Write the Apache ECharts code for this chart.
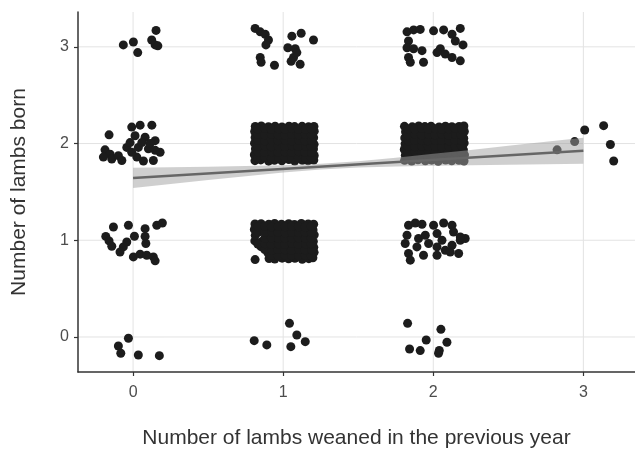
<!DOCTYPE html>
<html>
<head>
<meta charset="utf-8">
<script src="https://cdn.jsdelivr.net/npm/echarts@6/dist/echarts.min.js"></script>
<style>html,body{margin:0;padding:0;background:#fff}#c{width:635px;height:450px}</style>
</head>
<body>
<div id="c"></div>
<script>
// Tick labels
const xTicks = [0, 1, 2, 3];
const yTicks = [0, 1, 2, 3];

// Jittered observations, grouped by (weaned, born)
const c0_0 = [[-0.031,-0.013],[-0.098,-0.093],[-0.082,-0.168],[0.035,-0.186],[0.175,-0.193]];
const c1_0 = [[0.807,-0.038],[0.891,-0.082],[1.042,0.141],[1.091,0.021],[1.051,-0.1],[1.147,-0.048]];
const c2_0 = [[1.829,0.141],[1.842,-0.124],[1.913,-0.141],[1.953,-0.031],[2.051,0.079],[2.091,-0.055],[2.035,-0.168],[2.04,-0.14]];
const c0_1 = [[-0.131,1.137],[-0.182,1.04],[-0.16,0.993],[-0.142,0.938],[-0.042,0.982],[-0.065,0.931],[-0.087,0.879],[-0.031,1.155],[0.009,1.041],[0.08,1.12],[0.08,1.04],[0.085,0.966],[0.158,1.155],[0.195,1.178],[0.002,0.828],[0.047,0.856],[0.091,0.845],[0.135,0.828],[0.147,0.787]];
const c1_1 = [
[0.906,0.812],[0.944,0.806],[0.993,0.815],[1.036,0.808],[1.078,0.813],[1.127,0.804],[1.171,0.81],[1.198,0.818],
[0.898,0.871],[0.951,0.878],[0.987,0.866],[1.041,0.874],[1.084,0.869],[1.123,0.879],[1.166,0.868],[1.206,0.875],
[0.852,0.934],[0.903,0.927],[0.946,0.938],[0.982,0.925],[1.034,0.936],[1.079,0.929],[1.129,0.94],[1.168,0.931],[1.204,0.927],
[0.811,0.993],[0.858,0.987],[0.897,0.996],[0.952,0.984],[0.991,0.998],[1.038,0.989],[1.074,0.994],[1.122,0.986],[1.173,0.997],[1.201,0.988],
[0.814,1.051],[0.909,1.046],[0.941,1.055],[0.985,1.049],[1.031,1.057],[1.086,1.044],[1.118,1.053],[1.164,1.048],[1.207,1.056],
[0.808,1.112],[0.861,1.104],[0.895,1.116],[0.949,1.107],[0.996,1.113],[1.043,1.103],[1.081,1.115],[1.126,1.108],[1.17,1.111],[1.199,1.106],
[0.812,1.168],[0.853,1.172],[0.904,1.165],[0.943,1.174],[0.989,1.166],[1.037,1.171],[1.075,1.164],[1.121,1.173],[1.167,1.169],[1.203,1.166],
[0.813,0.80]
];
const c1_1b = [
[0.922,0.843],[0.967,0.839],[1.012,0.846],[1.057,0.841],[1.102,0.838],[1.147,0.845],[1.187,0.84],
[0.877,0.904],[0.924,0.899],[0.966,0.905],[1.013,0.901],[1.055,0.897],[1.104,0.906],[1.145,0.9],[1.189,0.903],
[0.831,0.961],[0.879,0.965],[0.92,0.958],[0.968,0.963],[1.01,0.959],[1.059,0.966],[1.1,0.96],[1.149,0.964],[1.186,0.962],
[0.878,1.021],[0.921,1.025],[0.969,1.018],[1.011,1.023],[1.058,1.019],[1.101,1.026],[1.148,1.02],[1.187,1.024],
[0.833,1.083],[0.876,1.079],[0.923,1.085],[0.965,1.081],[1.014,1.078],[1.056,1.084],[1.103,1.08],[1.146,1.086],[1.188,1.082],
[0.832,1.141],[0.877,1.145],[0.922,1.138],[0.967,1.143],[1.012,1.139],[1.057,1.144],[1.102,1.14],[1.147,1.137],[1.187,1.143]
];
const c2_1 = [[1.835,1.155],[1.88,1.178],[1.925,1.165],[2.002,1.155],[2.069,1.178],[2.125,1.155],[1.825,1.052],[1.813,0.966],[1.835,0.863],[1.847,0.794],[1.891,0.931],[1.902,1.018],[1.947,1.052],[1.935,0.845],[1.969,0.966],[2.025,1.069],[2.025,0.931],[2.058,1.0],[2.08,0.897],[2.125,0.948],[2.18,1.0],[2.213,1.018],[2.113,0.879],[2.169,0.863],[2.025,0.845],[2.18,1.034],[2.135,1.086]];
const c0_2 = [[-0.16,2.09],[-0.187,1.935],[-0.153,1.89],[-0.198,1.86],[-0.142,1.84],[-0.098,1.875],[-0.075,1.825],[-0.042,1.96],[-0.02,2.01],[-0.009,2.17],[0.047,2.19],[0.125,2.19],[0.013,2.08],[0.08,2.065],[0.147,2.03],[0.035,1.96],[0.102,1.945],[0.18,1.91],[0.025,1.86],[0.069,1.82],[0.135,1.825],[-0.009,1.91],[0.058,2.01],[0.113,2.0],[0.147,1.93]];
const c1_2 = [
[0.812,1.823],[0.851,1.831],[0.903,1.818],[0.942,1.827],[0.991,1.821],[1.038,1.834],[1.077,1.819],[1.128,1.826],[1.166,1.822],[1.204,1.829],
[0.808,1.884],[0.859,1.872],[0.897,1.889],[0.948,1.876],[0.986,1.885],[1.031,1.871],[1.083,1.887],[1.121,1.874],[1.173,1.883],[1.207,1.876],
[0.815,1.943],[0.853,1.936],[0.906,1.948],[0.939,1.934],[0.994,1.941],[1.036,1.951],[1.074,1.937],[1.129,1.946],[1.164,1.933],[1.202,1.944],
[0.809,2.004],[0.862,1.996],[0.894,2.008],[0.951,1.993],[0.983,2.006],[1.042,1.998],[1.081,2.011],[1.119,1.995],[1.176,2.003],[1.206,1.992],
[0.813,2.063],[0.849,2.057],[0.908,2.068],[0.944,2.054],[0.997,2.066],[1.028,2.059],[1.086,2.071],[1.124,2.056],[1.168,2.064],[1.203,2.061],
[0.81,2.124],[0.857,2.116],[0.899,2.129],[0.953,2.118],[0.988,2.126],[1.034,2.113],[1.079,2.127],[1.131,2.119],[1.171,2.122],[1.207,2.128],
[0.814,2.176],[0.854,2.181],[0.902,2.174],[0.946,2.179],[0.992,2.172],[1.039,2.18],[1.076,2.175],[1.126,2.178],[1.169,2.173],[1.205,2.177]
];
const c1_2b = [
[0.831,1.851],[0.878,1.856],[0.921,1.848],[0.969,1.853],[1.011,1.857],[1.058,1.849],[1.101,1.854],[1.148,1.85],[1.187,1.855],
[0.834,1.913],[0.875,1.908],[0.924,1.915],[0.966,1.91],[1.013,1.914],[1.055,1.909],[1.104,1.916],[1.145,1.911],[1.189,1.907],
[0.83,1.971],[0.879,1.975],[0.92,1.968],[0.968,1.973],[1.01,1.969],[1.059,1.976],[1.1,1.97],[1.149,1.974],[1.186,1.972],
[0.833,2.031],[0.876,2.028],[0.923,2.035],[0.965,2.03],[1.014,2.033],[1.056,2.027],[1.103,2.034],[1.146,2.029],[1.188,2.032],
[0.832,2.093],[0.877,2.089],[0.922,2.095],[0.967,2.091],[1.012,2.088],[1.057,2.094],[1.102,2.09],[1.147,2.096],[1.187,2.092],
[0.831,2.151],[0.878,2.155],[0.921,2.148],[0.969,2.153],[1.011,2.149],[1.058,2.154],[1.101,2.15],[1.148,2.147],[1.187,2.153]
];
const c2_2 = [
[1.809,1.826],[1.856,1.819],[1.898,1.832],[1.947,1.821],[1.989,1.828],[2.033,1.817],[2.082,1.83],[2.123,1.822],[2.171,1.827],[2.205,1.82],
[1.814,1.879],[1.852,1.887],[1.905,1.874],[1.941,1.884],[1.995,1.871],[2.037,1.888],[2.076,1.876],[2.127,1.886],[2.165,1.873],[2.208,1.882],
[1.807,1.938],[1.861,1.947],[1.896,1.933],[1.952,1.944],[1.984,1.936],[2.041,1.949],[2.085,1.935],[2.119,1.941],[2.174,1.948],[2.201,1.934],
[1.812,1.997],[1.849,2.006],[1.907,1.994],[1.943,2.009],[1.993,1.999],[2.029,2.004],[2.078,1.992],[2.13,2.007],[2.163,1.998],[2.206,2.005],
[1.81,2.058],[1.858,2.067],[1.901,2.055],[1.949,2.069],[1.987,2.06],[2.036,2.053],[2.083,2.066],[2.121,2.058],[2.177,2.068],[2.203,2.056],
[1.815,2.121],[1.853,2.114],[1.894,2.127],[1.954,2.117],[1.996,2.129],[2.031,2.12],[2.074,2.113],[2.128,2.126],[2.167,2.118],[2.207,2.124],
[1.808,2.178],[1.86,2.173],[1.903,2.181],[1.944,2.175],[1.985,2.179],[2.039,2.172],[2.081,2.18],[2.124,2.174],[2.172,2.177],[2.204,2.181]
];
const c2_2b = [
[1.833,1.853],[1.876,1.849],[1.923,1.856],[1.965,1.851],[2.014,1.848],[2.056,1.855],[2.103,1.85],[2.146,1.857],[2.188,1.852],
[1.831,1.91],[1.879,1.914],[1.92,1.907],[1.968,1.912],[2.01,1.916],[2.059,1.909],[2.1,1.913],[2.149,1.908],[2.186,1.915],
[1.832,1.972],[1.877,1.968],[1.922,1.975],[1.967,1.97],[2.012,1.974],[2.057,1.967],[2.102,1.973],[2.147,1.969],[2.187,1.976],
[1.834,2.029],[1.875,2.034],[1.924,2.03],[1.966,2.027],[2.013,2.033],[2.055,2.031],[2.104,2.028],[2.145,2.035],[2.189,2.03],
[1.83,2.091],[1.878,2.095],[1.921,2.089],[1.969,2.094],[2.011,2.09],[2.058,2.096],[2.101,2.088],[2.148,2.093],[2.186,2.091],
[1.833,2.153],[1.876,2.149],[1.923,2.155],[1.965,2.15],[2.014,2.154],[2.056,2.148],[2.103,2.152],[2.146,2.156],[2.188,2.15]
];
const c3_2 = [[2.825,1.935],[2.942,2.02],[3.009,2.14],[3.135,2.185],[3.18,1.99],[3.202,1.82]];
const c0_3 = [[-0.065,3.02],[0.002,3.05],[0.031,2.94],[0.153,3.17],[0.124,3.07],[0.147,3.02],[0.165,3.01]];
const c1_3 = [[0.813,3.19],[0.847,3.155],[0.88,3.13],[0.902,3.07],[0.885,3.02],[0.847,2.89],[0.853,2.84],[0.942,2.81],[1.058,3.11],[1.12,3.14],[1.202,3.07],[1.031,2.99],[1.08,2.98],[1.069,2.89],[1.053,2.85],[1.113,2.82],[1.091,2.94]];
const c2_3 = [[1.825,3.155],[1.869,3.175],[1.913,3.18],[2.002,3.165],[2.069,3.175],[2.125,3.13],[2.18,3.19],[2.147,3.06],[2.198,3.02],[1.835,3.06],[1.825,2.99],[1.869,2.98],[1.925,2.96],[1.835,2.89],[1.847,2.84],[1.935,2.84],[2.047,2.98],[2.025,2.94],[2.08,2.925],[2.125,2.89],[2.18,2.855]];

// Linear fit and its confidence band
const fitLine = [[0, 1.645], [3, 1.925]];
const bandX  = [0, 0.25, 0.5, 0.75, 1, 1.25, 1.5, 1.75, 2, 2.25, 2.5, 2.75, 3];
const bandLo = [1.54, 1.582, 1.623, 1.663, 1.701, 1.732, 1.752, 1.762, 1.77, 1.776, 1.781, 1.786, 1.79];
const bandHi = [1.75, 1.755, 1.761, 1.767, 1.775, 1.792, 1.818, 1.854, 1.894, 1.934, 1.976, 2.018, 2.06];

const points = [].concat(c0_0, c1_0, c2_0, c0_1, c1_1, c1_1b, c2_1, c0_2, c1_2, c1_2b, c2_2, c2_2b, c3_2, c0_3, c1_3, c2_3);

const X_MIN = -0.367, X_MAX = 3.344, Y_MIN = -0.362, Y_MAX = 3.36;
const FONT = '"Liberation Sans", Arial, sans-serif';

const gridData = xTicks.map(v => ['x', v]).concat(yTicks.map(v => ['y', v]));

const chart = echarts.init(document.getElementById('c'), null, {renderer: 'canvas'});
chart.setOption({
  animation: false,
  backgroundColor: '#fff',
  grid: {left: 78, right: 0, top: 12, bottom: 78, containLabel: false, outerBoundsMode: 'none'},
  xAxis: {
    type: 'value', min: X_MIN, max: X_MAX,
    name: 'Number of lambs weaned in the previous year',
    nameLocation: 'middle', nameGap: 56,
    nameTextStyle: {fontFamily: FONT, fontSize: 21, color: '#333'},
    axisLine: {show: true, onZero: false, lineStyle: {color: '#333', width: 1.5}},
    axisTick: {show: true, customValues: xTicks, length: 4, lineStyle: {color: '#333', width: 1.2}},
    axisLabel: {customValues: xTicks, fontFamily: FONT, fontSize: 16, color: '#4d4d4d', margin: 13},
    splitLine: {show: false}
  },
  yAxis: {
    type: 'value', min: Y_MIN, max: Y_MAX,
    name: 'Number of lambs born',
    nameLocation: 'middle', nameGap: 48,
    nameTextStyle: {fontFamily: FONT, fontSize: 21, color: '#333'},
    axisLine: {show: true, onZero: false, lineStyle: {color: '#333', width: 1.5}},
    axisTick: {show: true, customValues: yTicks, length: 4, lineStyle: {color: '#333', width: 1.2}},
    axisLabel: {customValues: yTicks, fontFamily: FONT, fontSize: 16, color: '#4d4d4d', margin: 9},
    splitLine: {show: false}
  },
  series: [
    {
      type: 'custom', z: 0, silent: true,
      data: gridData,
      renderItem: function (params, api) {
        const d = gridData[params.dataIndex];
        let p1, p2;
        if (d[0] === 'x') { p1 = api.coord([d[1], Y_MIN]); p2 = api.coord([d[1], Y_MAX]); }
        else { p1 = api.coord([X_MIN, d[1]]); p2 = api.coord([X_MAX, d[1]]); }
        return {type: 'line', shape: {x1: p1[0], y1: p1[1], x2: p2[0], y2: p2[1]},
                style: {stroke: '#e3e3e3', lineWidth: 1}};
      },
      encode: {x: -1, y: -1}
    },
    {
      type: 'scatter', z: 2, data: points, symbolSize: 9,
      itemStyle: {color: '#1c1c1c', opacity: 1}
    },
    {
      type: 'custom', z: 3, silent: true,
      data: bandX.map((x, i) => [x, bandLo[i], bandHi[i]]),
      renderItem: function (params, api) {
        if (params.dataIndex !== 0) return null;
        const pts = [];
        for (let i = 0; i < bandX.length; i++) pts.push(api.coord([bandX[i], bandHi[i]]));
        for (let i = bandX.length - 1; i >= 0; i--) pts.push(api.coord([bandX[i], bandLo[i]]));
        return {type: 'polygon', shape: {points: pts}, style: {fill: '#a0a0a0', opacity: 0.5}};
      },
      encode: {x: 0, y: [1, 2]}
    },
    {
      type: 'line', z: 4, data: fitLine, symbol: 'none', silent: true,
      lineStyle: {color: '#666', width: 2.5}
    }
  ]
});
</script>
</body>
</html>
